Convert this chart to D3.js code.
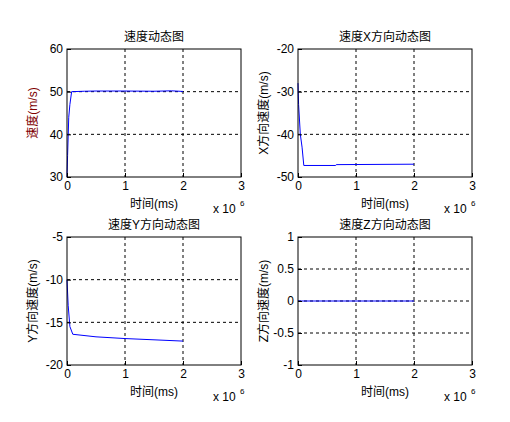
<!DOCTYPE html><html><head><meta charset="utf-8"><script src="https://cdn.jsdelivr.net/npm/d3@7"></script>
<style>body{margin:0;background:#fff}text{font-family:"Liberation Sans",Arial,"Noto Sans CJK SC",sans-serif;font-size:12px}</style></head><body>
<svg id="c" width="510" height="422"></svg>
<script>
const tSpeed=[0,0.01e6,0.03e6,0.05e6,0.08e6,0.3e6,0.5e6,1e6,1.5e6,1.8e6,2e6];
const vSpeed=[30,35,44,47,50,50.1,50.15,50.15,50.1,50.2,50.05];
const tX=[0,0.01e6,0.04e6,0.07e6,0.1e6,0.65e6,0.66e6,2e6];
const vX=[-28,-33,-40,-43,-47.3,-47.3,-47.1,-47.0];
const tY=[0,0.02e6,0.05e6,0.1e6,0.5e6,1e6,1.5e6,2e6];
const vY=[-10,-13,-15.5,-16.4,-16.7,-16.9,-17.05,-17.2];
const tZ=[0,2e6];
const vZ=[0,0];
const xTicks=[0,1,2,3];
const panels=[
 {x0:67,y0:49,title:"速度动态图",ylab:"速度(m/s)",ylc:"#800000",dom:[30,60],ticks:[30,40,50,60],t:tSpeed,v:vSpeed,fmt:d=>d},
 {x0:298,y0:49,title:"速度X方向动态图",ylab:"X方向速度(m/s)",ylc:"#000",dom:[-50,-20],ticks:[-50,-40,-30,-20],t:tX,v:vX,fmt:d=>d},
 {x0:67,y0:237,title:"速度Y方向动态图",ylab:"Y方向速度(m/s)",ylc:"#000",dom:[-20,-5],ticks:[-20,-15,-10,-5],t:tY,v:vY,fmt:d=>d},
 {x0:298,y0:237,title:"速度Z方向动态图",ylab:"Z方向速度(m/s)",ylc:"#000",dom:[-1,1],ticks:[-1,-0.5,0,0.5,1],t:tZ,v:vZ,fmt:d=>d}
];
const W=174,H=128,svg=d3.select("#c");
panels.forEach(p=>{
 const g=svg.append("g").attr("transform",`translate(${p.x0},${p.y0})`);
 const x=d3.scaleLinear().domain([0,3e6]).range([0,W]);
 const y=d3.scaleLinear().domain(p.dom).range([H,0]);
 xTicks.slice(1,-1).forEach(t=>g.append("line").attr("x1",x(t*1e6)).attr("x2",x(t*1e6)).attr("y1",0).attr("y2",H).attr("stroke","#000").attr("stroke-dasharray","3,3"));
 p.ticks.slice(1,-1).forEach(t=>g.append("line").attr("y1",y(t)).attr("y2",y(t)).attr("x1",0).attr("x2",W).attr("stroke","#000").attr("stroke-dasharray","3,3"));
 g.append("path").datum(p.t.map((t,i)=>[t,p.v[i]])).attr("fill","none").attr("stroke","#0000ff")
  .attr("d",d3.line().x(d=>x(d[0])).y(d=>y(d[1])));
 const xa=g.append("g").attr("transform",`translate(0,${H})`).call(d3.axisBottom(x).tickValues(xTicks.map(t=>t*1e6)).tickFormat(d=>d/1e6).tickSizeInner(-4).tickSizeOuter(0).tickPadding(4));
 const ya=g.append("g").call(d3.axisLeft(y).tickValues(p.ticks).tickFormat(p.fmt).tickSizeInner(-4).tickSizeOuter(0).tickPadding(4));
 [xa,ya].forEach(a=>{a.select(".domain").remove();a.selectAll("text").attr("fill","#000").style("font-size","12px");a.selectAll("line").attr("stroke","#000");});
 g.append("rect").attr("width",W).attr("height",H).attr("fill","none").attr("stroke","#000");
 g.append("text").attr("x",W/2).attr("y",-8).attr("text-anchor","middle").text(p.title);
 g.append("text").attr("x",W/2).attr("y",H+31).attr("text-anchor","middle").text("时间(ms)");
 g.append("text").attr("x",W-28).attr("y",H+36).text("x 10");
 g.append("text").attr("x",W-1).attr("y",H+29).style("font-size","8px").text("6");
 g.append("text").attr("transform",`translate(${-30},${H/2}) rotate(-90)`).attr("text-anchor","middle").attr("fill",p.ylc).text(p.ylab);
});
</script></body></html>
